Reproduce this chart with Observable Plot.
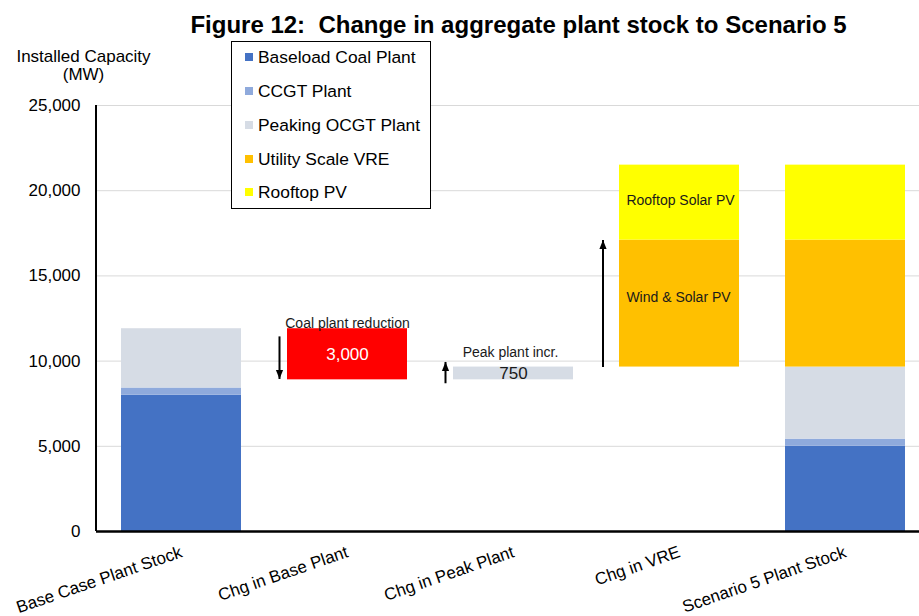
<!DOCTYPE html>
<html>
<head>
<meta charset="utf-8">
<script src="https://cdn.jsdelivr.net/npm/d3@7"></script>
<script src="https://cdn.jsdelivr.net/npm/@observablehq/plot@0.6"></script>
<style>
  html, body { margin: 0; padding: 0; background: #fff; }
  body { font-family: "Liberation Sans", Arial, sans-serif; color: #000; }
  #wrap { position: relative; width: 919px; height: 616px; overflow: hidden; background: #fff; }
  #title { position: absolute; top: 13px; left: 518.5px; transform: translateX(-50%); font-size: 24px; line-height: 24px; font-weight: bold; white-space: pre; }
  #ylabel { position: absolute; top: 47.6px; left: 0; width: 167px; text-align: center; font-size: 17px; line-height: 18.3px; }
  #chart { position: absolute; top: 45px; left: 0; width: 930px; height: 571px; }
  #chart svg { max-width: none !important; }
  #legend { position: absolute; left: 231px; top: 41px; width: 200px; height: 168px; box-sizing: border-box; border: 1.5px solid #000; background: #fff; }
  .item { position: absolute; left: 0; height: 20px; line-height: 20px; font-size: 17.4px; white-space: nowrap; }
  .sw { position: absolute; left: 13px; top: 6px; width: 8px; height: 8px; }
  .lt { position: absolute; left: 26px; top: 0; }
</style>
</head>
<body>
<div id="wrap">
  <div id="title">Figure 12:  Change in aggregate plant stock to Scenario 5</div>
  <div id="ylabel">Installed Capacity<br>(MW)</div>
  <div id="chart"></div>
  <div id="legend"></div>
</div>
<script>
// ---------- data ----------
const categories = ["Base Case Plant Stock", "Chg in Base Plant", "Chg in Peak Plant", "Chg in VRE", "Scenario 5 Plant Stock"];
const seriesNames = ["Baseload Coal Plant", "CCGT Plant", "Peaking OCGT Plant", "Utility Scale VRE", "Rooftop PV"];
const seriesColors = ["#4472C4", "#8FAADC", "#D6DCE5", "#FFC000", "#FFFF00"];
const reductionName = "Coal plant reduction";
const reductionColor = "#FF0000";
const baseCase = [8000, 420, 3480, 0, 0];
const coalReduction = 3000;
const peakIncrease = 750;
const vreIncrease = [7450, 4400];      // utility scale, rooftop
const scenario5 = [5000, 420, 4230, 7450, 4400];
const yTicks = [0, 5000, 10000, 15000, 20000, 25000];
const valueLabels = ["3,000", "750"];
const annotationTexts = ["Coal plant reduction", "Peak plant incr.", "Rooftop Solar PV", "Wind & Solar PV"];
const arrowCats = ["Chg in Base Plant", "Chg in Peak Plant", "Chg in VRE"];
const arrowFrom = [11450, 8700, 9650];
const arrowTo = [8950, 9950, 17100];

// ---------- build table ----------
const bars = [];
function stackCol(cat, vals) {
  let acc = 0;
  vals.forEach((v, i) => {
    if (v > 0) bars.push({cat, series: seriesNames[i], y1: acc, y2: acc + v});
    acc += v;
  });
  return acc;
}
let level = stackCol(categories[0], baseCase);
const redBar = {cat: categories[1], series: reductionName, y1: level - coalReduction, y2: level};
bars.push(redBar);
level -= coalReduction;
const peakBar = {cat: categories[2], series: seriesNames[2], y1: level, y2: level + peakIncrease};
bars.push(peakBar);
level += peakIncrease;
const vreUtil = {cat: categories[3], series: seriesNames[3], y1: level, y2: level + vreIncrease[0]};
const vreRoof = {cat: categories[3], series: seriesNames[4], y1: vreUtil.y2, y2: vreUtil.y2 + vreIncrease[1]};
bars.push(vreUtil, vreRoof);
stackCol(categories[4], scenario5);

const values = [
  {cat: redBar.cat, y: (redBar.y1 + redBar.y2) / 2, text: valueLabels[0], fill: "#ffffff"},
  {cat: peakBar.cat, y: (peakBar.y1 + peakBar.y2) / 2, text: valueLabels[1], fill: "#1a1a1a"}
];
const arrowsDown = [];
const arrowsUp = [];
arrowCats.forEach((c, i) => {
  const a = {cat: c, from: arrowFrom[i], to: arrowTo[i], rot: arrowTo[i] < arrowFrom[i] ? 180 : 0};
  (i < 2 ? arrowsDown : arrowsUp).push(a);
});

// arrowhead symbol: tip at origin, pointing up
const head = {draw(ctx) { ctx.moveTo(0, 0); ctx.lineTo(3.6, 9); ctx.lineTo(-3.6, 9); ctx.closePath(); }};

const yAxisLine = (index, scales, vals, dims) => {
  const x = dims.marginLeft;
  return d3.create("svg:line")
    .attr("x1", x).attr("x2", x)
    .attr("y1", scales.y(yTicks[yTicks.length - 1])).attr("y2", scales.y(0))
    .attr("stroke", "#000").attr("stroke-width", 2).node();
};

const chart = Plot.plot({
  width: 930,
  height: 571,
  marginLeft: 96,
  marginRight: 0,
  marginTop: 60,
  marginBottom: 85,
  style: {fontFamily: "'Liberation Sans', Arial, sans-serif", fontSize: "17px", color: "#000", background: "transparent", overflow: "visible", maxWidth: "none"},
  x: {domain: categories, paddingInner: 0.28, paddingOuter: 0.14, align: 0.5},
  y: {domain: [0, 25000]},
  color: {domain: [...seriesNames, reductionName], range: [...seriesColors, reductionColor]},
  marks: [
    Plot.ruleY(yTicks.filter(d => d > 0), {stroke: "#D9D9D9", strokeWidth: 1}),
    Plot.barY(bars, {x: "cat", y1: "y1", y2: "y2", fill: "series", inset: 0}),
    Plot.axisY({ticks: yTicks, tickFormat: d3.format(","), tickSize: 0, tickPadding: 16, fontSize: 17, label: null}),
    Plot.axisX({tickSize: 0, tickPadding: 20, tickRotate: -19, textAnchor: "end", fontSize: 17, label: null}),
    Plot.text(values, {x: "cat", y: "y", text: "text", fill: "fill", fontSize: 17}),
    Plot.text([annotationTexts[0]], {x: () => redBar.cat, y: () => redBar.y2, text: d => d, lineAnchor: "bottom", dy: -1, fontSize: 14, fill: "#1a1a1a"}),
    Plot.text([annotationTexts[1]], {x: () => peakBar.cat, y: () => peakBar.y2, text: d => d, lineAnchor: "bottom", dy: -10, dx: -3, fontSize: 14, fill: "#1a1a1a"}),
    Plot.text([annotationTexts[2]], {x: () => vreRoof.cat, y: () => (vreRoof.y1 + vreRoof.y2) / 2, text: d => d, dy: -2, dx: 1, fontSize: 14, fill: "#1a1a1a"}),
    Plot.text([annotationTexts[3]], {x: () => vreUtil.cat, y: () => (vreUtil.y1 + vreUtil.y2) / 2, text: d => d, dy: -6, dx: -1, fontSize: 14, fill: "#1a1a1a"}),
    Plot.link(arrowsDown, {x1: "cat", x2: "cat", y1: "from", y2: "to", dx: -68, stroke: "#000", strokeWidth: 2}),
    Plot.dot(arrowsDown, {x: "cat", y: "to", rotate: "rot", symbol: head, fill: "#000", stroke: "none", dx: -68}),
    Plot.link(arrowsUp, {x1: "cat", x2: "cat", y1: "from", y2: "to", dx: -76.5, stroke: "#000", strokeWidth: 2}),
    Plot.dot(arrowsUp, {x: "cat", y: "to", rotate: "rot", symbol: head, fill: "#000", stroke: "none", dx: -76.5}),
    Plot.ruleY([0], {stroke: "#000", strokeWidth: 2.5}),
    yAxisLine
  ]
});
document.getElementById("chart").appendChild(chart);

// ---------- legend ----------
const legend = document.getElementById("legend");
const rowCenters = [15, 49, 82.5, 116.5, 149.5];
seriesNames.forEach((name, i) => {
  const item = document.createElement("div");
  item.className = "item";
  item.style.top = (rowCenters[i] - 10) + "px";
  const sw = document.createElement("div");
  sw.className = "sw";
  sw.style.background = seriesColors[i];
  const lt = document.createElement("div");
  lt.className = "lt";
  lt.textContent = name;
  item.appendChild(sw);
  item.appendChild(lt);
  legend.appendChild(item);
});
</script>
</body>
</html>
